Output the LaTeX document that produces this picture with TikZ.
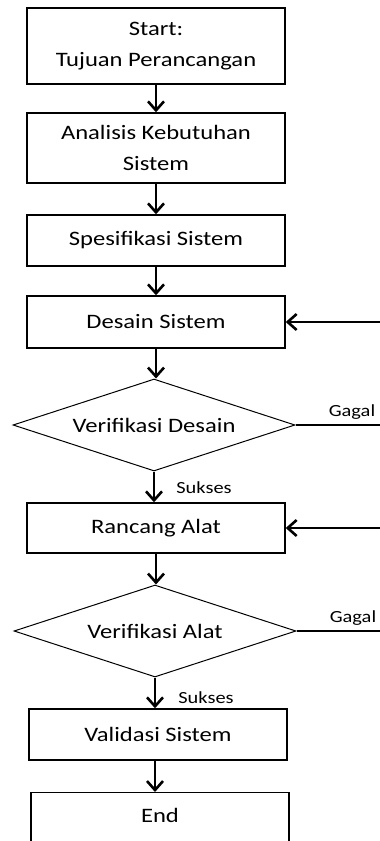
\documentclass[tikz,border=0pt]{standalone}
\usepackage{fontspec}
\setmainfont[FakeStretch=1.2]{Carlito}
\usetikzlibrary{shapes.geometric,arrows.meta}
\newcommand\boxfont{\fontsize{20.5}{31}\selectfont}
\newcommand\lblfont{\fontsize{17}{20}\selectfont}
\begin{document}
\begin{tikzpicture}[x=1pt,y=-1pt,
  box/.style={draw,line width=1.4pt,minimum width=258pt,inner sep=0pt,align=center,font=\boxfont},
  dec/.style={draw,diamond,aspect=3.07,line width=1pt,minimum width=282pt,minimum height=92pt,inner sep=0pt,font=\boxfont},
  arr/.style={line width=2.6pt,-{Straight Barb[length=9pt,width=16pt,line width=2.6pt]}},
  lbl/.style={font=\lblfont,inner sep=0pt,anchor=base}]
\useasboundingbox (0,0) rectangle (380,841);
\clip (0,0) rectangle (380,841);
\node[box,minimum height=76pt] (start) at (156,46) {Start:\\Tujuan Perancangan};
\node[box,minimum height=70pt] (ana) at (156,148) {Analisis Kebutuhan\\Sistem};
\node[box,minimum height=51pt] (spec) at (156,240.5) {Spesifikasi Sistem};
\node[box,minimum height=52pt] (des) at (156,322) {Desain Sistem};
\node[dec] (vd) at (154,425) {Verifikasi Desain};
\node[box,minimum height=50pt] (ran) at (156,528) {Rancang Alat};
\node[dec] (va) at (155,631) {Verifikasi Alat};
\node[box,minimum height=51pt] (val) at (158,734.5) {Validasi Sistem};
\node[box,anchor=north,text height=30pt,text depth=40pt] (end) at (160,792) {End};
% main flow
\draw[arr] (start.south) -- (start.south |- ana.north);
\draw[arr] (ana.south) -- (ana.south |- spec.north);
\draw[arr] (spec.south) -- (spec.south |- des.north);
\draw[arr] (des.south) -- (des.south |- vd.north);
\draw[arr] (vd.south) -- (vd.south |- ran.north);
\draw[arr] (ran.south) -- (ran.south |- va.north);
\draw[arr] (va.south) -- (va.south |- val.north);
\draw[arr] (val.south -| va.south) -- (va.south |- end.north);
% loops (vertical parts lie outside the visible area)
\coordinate (r1) at (400,425);
\coordinate (r2) at (400,631);
\draw[arr] (vd.east) -- (r1) |- (des.east);
\draw[arr] (va.east) -- (r2) |- (ran.east);
% labels
\node[lbl] (g1) at (352,416) {Gagal};
\node[lbl] (s1) at (204,493) {Sukses};
\node[lbl] (g2) at (353,622) {Gagal};
\node[lbl] (s2) at (206,703) {Sukses};
\end{tikzpicture}
\end{document}
